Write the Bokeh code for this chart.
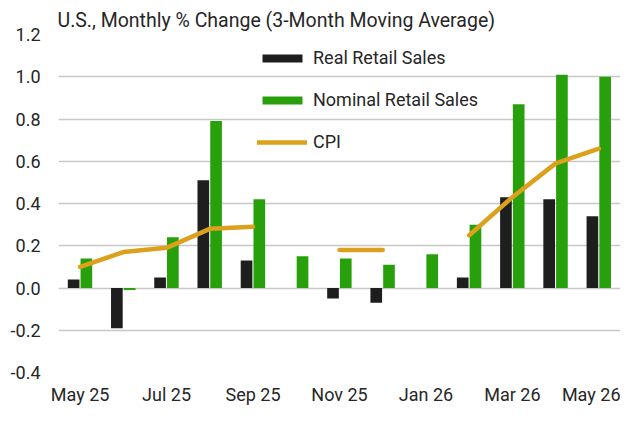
import numpy as np
from bokeh.plotting import figure
from bokeh.models import ColumnDataSource, Legend, LegendItem, Range1d, FixedTicker
from bokeh.transform import dodge
from bokeh.embed import file_html
from bokeh.resources import INLINE

nan = np.nan
months = ["May 25", "Jun 25", "Jul 25", "Aug 25", "Sep 25", "Oct 25", "Nov 25",
          "Dec 25", "Jan 26", "Feb 26", "Mar 26", "Apr 26", "May 26"]
real_sales = [0.04, -0.19, 0.05, 0.51, 0.13, nan, -0.05, -0.07, nan, 0.05, 0.43, 0.42, 0.34]
nominal_sales = [0.14, -0.01, 0.24, 0.79, 0.42, 0.15, 0.14, 0.11, 0.16, 0.30, 0.87, 1.01, 1.00]
cpi = [0.10, 0.17, 0.19, 0.28, 0.29, nan, 0.18, 0.18, nan, 0.25, 0.43, 0.59, 0.66]
y_ticks = [-0.4, -0.2, 0.0, 0.2, 0.4, 0.6, 0.8, 1.0, 1.2]
y_tick_labels = ["-0.4", "-0.2", "0.0", "0.2", "0.4", "0.6", "0.8", "1.0", "1.2"]
x_tick_labels = ["May 25", "Jul 25", "Sep 25", "Nov 25", "Jan 26", "Mar 26", "May 26"]

FONT = "Roboto"
TXT = "#262626"
BLACK = "#1e1e1e"
GREEN = "#28a00b"
GOLD = "#dba11c"

idx = list(range(len(months)))
src = ColumnDataSource(dict(x=idx, real=real_sales, nominal=nominal_sales, cpi=cpi))

p = figure(width=620, height=407, output_backend="svg", toolbar_location=None,
           x_range=Range1d(-0.5, len(months) - 0.5), y_range=Range1d(-0.4, 1.2),
           min_border_left=58, min_border_right=0, min_border_top=34, min_border_bottom=32,
           title="U.S., Monthly % Change (3-Month Moving Average)")
p.outline_line_color = None
p.background_fill_color = "white"
p.border_fill_color = "white"

p.title.text_font = FONT
p.title.text_font_size = "19.5px"
p.title.text_font_style = "normal"
p.title.text_color = TXT
p.title.standoff = 5
p.title.offset = -1

r_real = p.vbar(x=dodge("x", -0.15), top="real", width=0.27, source=src,
                fill_color=BLACK, line_color=None)
r_nom = p.vbar(x=dodge("x", 0.145), top="nominal", width=0.27, source=src,
               fill_color=GREEN, line_color=None)
r_cpi = p.line(x="x", y="cpi", source=src, line_color=GOLD, line_width=4.5,
               line_cap="round", line_join="round")

# axes
p.xaxis.ticker = FixedTicker(ticks=[months.index(m) for m in x_tick_labels])
p.xaxis.major_label_overrides = {months.index(m): m for m in x_tick_labels}
p.yaxis.ticker = FixedTicker(ticks=y_ticks)
p.yaxis.major_label_overrides = {t: l for t, l in zip(y_ticks, y_tick_labels)}
for ax in (p.xaxis, p.yaxis):
    ax.axis_line_color = None
    ax.major_tick_line_color = None
    ax.minor_tick_line_color = None
    ax.major_tick_out = 0
    ax.major_tick_in = 0
    ax.major_label_text_font = FONT
    ax.major_label_text_font_size = "18px"
    ax.major_label_text_color = TXT
p.xaxis.major_label_standoff = 11
p.yaxis.major_label_standoff = 18

p.xgrid.grid_line_color = None
p.ygrid.grid_line_color = "#c8c8c8"
p.ygrid.grid_line_width = 1.3

legend = Legend(items=[
    LegendItem(label="Real Retail Sales", renderers=[r_real]),
    LegendItem(label="Nominal Retail Sales", renderers=[r_nom]),
    LegendItem(label="CPI", renderers=[r_cpi]),
], location=(199, 220))
legend.glyph_width = 50
legend.glyph_height = 10
legend.label_height = 20
legend.spacing = 21
legend.padding = 0
legend.margin = 0
legend.label_standoff = 6
legend.border_line_color = None
legend.background_fill_alpha = 0
legend.label_text_font = FONT
legend.label_text_font_size = "18px"
legend.label_text_color = TXT
p.add_layout(legend)

open("out.html", "w").write(file_html(p, INLINE))
